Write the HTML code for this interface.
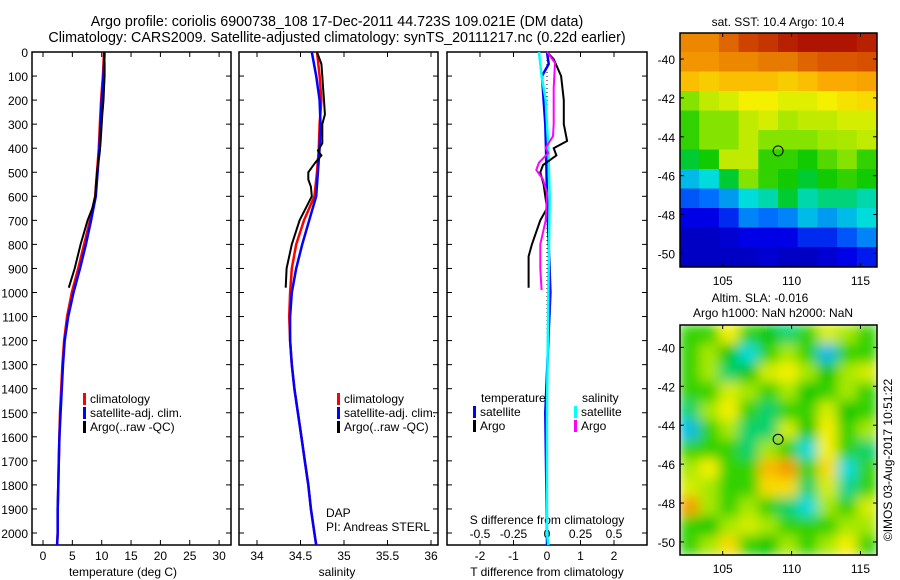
<!DOCTYPE html>
<html><head><meta charset="utf-8"><style>
body{margin:0;background:#fff}
svg{display:block;font-family:"Liberation Sans",sans-serif}
</style></head><body>
<svg id="c" width="900" height="580" viewBox="0 0 900 580" xmlns="http://www.w3.org/2000/svg">
<text x="337" y="26" font-size="14.3" text-anchor="middle">Argo profile: coriolis 6900738_108 17-Dec-2011 44.723S 109.021E (DM data)</text>
<text x="337" y="42" font-size="14.3" text-anchor="middle">Climatology: CARS2009. Satellite-adjusted climatology: synTS_20111217.nc (0.22d earlier)</text>
<g id="g"></g>
</svg>
<script>
// ---- data ----
const depthTicks=[0,100,200,300,400,500,600,700,800,900,1000,1100,1200,1300,1400,1500,1600,1700,1800,1900,2000];
const tTicks=[0,5,10,15,20,25,30];
const sTicks=[34,34.5,35,35.5,36];
const dTTicks=[-2,-1,0,1,2];
const dSTickLabels=["-0.5","-0.25","0","0.25","0.5"];
const climDepth=[0,100,200,300,400,500,600,700,800,900,1000,1100,1200,1300,1400,1500,1600,1700,1800,1900,2000,2050];
const climT=[10.4,10.2,9.9,9.7,9.5,9.2,8.9,8.0,7.0,6.0,4.9,4.1,3.6,3.3,3.1,2.9,2.8,2.7,2.6,2.5,2.5,2.4];
const satT=[10.5,10.3,10.0,9.8,9.6,9.3,9.0,8.2,7.3,6.3,5.2,4.3,3.7,3.4,3.2,3.0,2.8,2.7,2.6,2.5,2.5,2.4];
const climS=[34.69,34.72,34.74,34.72,34.71,34.69,34.66,34.54,34.45,34.40,34.38,34.37,34.38,34.40,34.43,34.47,34.51,34.55,34.59,34.62,34.66,34.68];
const satS=[34.63,34.68,34.72,34.73,34.72,34.70,34.68,34.60,34.52,34.45,34.40,34.38,34.38,34.40,34.43,34.47,34.51,34.55,34.59,34.62,34.66,34.68];
const argoDepth=[0,50,100,150,200,260,300,380,410,430,460,500,530,560,600,650,700,800,900,980];
const argoT=[10.4,10.5,10.5,10.4,10.3,10.1,10.0,9.8,9.7,9.6,9.4,9.2,9.1,9.0,8.9,8.4,7.6,6.4,5.4,4.4];
const argoS=[34.69,34.74,34.75,34.76,34.77,34.78,34.75,34.75,34.70,34.74,34.67,34.59,34.59,34.62,34.63,34.56,34.49,34.40,34.34,34.33];
const dTArgoDepth=[0,30,100,200,300,370,400,430,470,500,550,650,700,800,850,980];
const dTArgo=[0,0.2,0.42,0.5,0.5,0.6,0.2,0.28,-0.12,-0.2,-0.1,0,-0.2,-0.45,-0.55,-0.55];
const dSArgoDepth=[0,45,150,300,350,398,420,460,490,530,585,700,800,900,990];
const dSArgo=[0,0.06,0.05,0.05,0.045,-0.01,0.01,-0.06,-0.08,-0.03,0,-0.01,-0.05,-0.05,-0.04];
const dSatDepth=[0,50,100,200,300,400,600,800,1000,1500,2000,2050];
const dTSat=[0,0.05,-0.15,-0.1,-0.05,-0.03,0,0.05,0.1,-0.05,0,0];
const dSSat=[-0.06,-0.05,-0.04,-0.01,0.0,0.01,0.02,0.015,0.01,0,0,0.01];
const sstGrid=[
[0.8,0.8,0.85,0.9,0.92,0.95,0.97,0.97,0.97,0.95],
[0.78,0.78,0.8,0.8,0.82,0.82,0.85,0.87,0.87,0.88],
[0.72,0.7,0.72,0.72,0.72,0.7,0.72,0.75,0.75,0.76],
[0.55,0.6,0.62,0.65,0.65,0.63,0.63,0.65,0.67,0.68],
[0.5,0.55,0.55,0.6,0.62,0.58,0.6,0.6,0.62,0.62],
[0.5,0.55,0.55,0.6,0.55,0.55,0.55,0.57,0.58,0.6],
[0.45,0.48,0.6,0.6,0.5,0.5,0.48,0.52,0.55,0.5],
[0.35,0.38,0.45,0.55,0.5,0.48,0.45,0.48,0.5,0.48],
[0.25,0.28,0.32,0.38,0.4,0.45,0.4,0.42,0.42,0.4],
[0.15,0.15,0.2,0.3,0.28,0.3,0.35,0.32,0.35,0.38],
[0.1,0.1,0.12,0.15,0.15,0.15,0.2,0.2,0.25,0.3],
[0.1,0.1,0.1,0.1,0.12,0.1,0.1,0.12,0.15,0.18]];
const slaGrid=[
[0.5,0.5,0.6,0.5,0.48,0.45,0.5,0.58,0.55,0.5],
[0.5,0.55,0.48,0.42,0.5,0.55,0.5,0.4,0.5,0.5],
[0.5,0.55,0.45,0.48,0.58,0.6,0.55,0.48,0.55,0.58],
[0.5,0.5,0.58,0.55,0.5,0.55,0.48,0.5,0.55,0.5],
[0.45,0.55,0.6,0.5,0.45,0.5,0.5,0.58,0.48,0.5],
[0.4,0.5,0.55,0.45,0.45,0.58,0.48,0.6,0.5,0.55],
[0.5,0.5,0.5,0.45,0.55,0.5,0.42,0.6,0.5,0.45],
[0.55,0.6,0.5,0.5,0.65,0.68,0.5,0.62,0.42,0.5],
[0.58,0.55,0.5,0.5,0.62,0.62,0.45,0.58,0.44,0.5],
[0.68,0.55,0.5,0.55,0.5,0.45,0.42,0.55,0.5,0.58],
[0.5,0.48,0.55,0.58,0.55,0.5,0.5,0.5,0.55,0.55],
[0.5,0.55,0.62,0.5,0.48,0.55,0.5,0.55,0.6,0.5]];
const lonTicks=[105,110,115];
const latTicks=[-40,-42,-44,-46,-48,-50];
const argoLat=-44.723, argoLon=109.021;

// ---- helpers ----
const NS="http://www.w3.org/2000/svg";
const G=document.getElementById('g');
function el(tag,attrs,parent,txt){const e=document.createElementNS(NS,tag);for(const k in attrs)e.setAttribute(k,attrs[k]);if(txt!==undefined)e.textContent=txt;(parent||G).appendChild(e);return e;}
const yD=d=>52+d*0.2405;
const PT={x0:32,x1:231},PS={x0:239,x1:438},PD={x0:447,x1:647};
const xT=t=>43+t*5.87, xS=s=>257+(s-34)*87, xDT=v=>547+v*33.5, xDS=v=>547+v*134;
const Y0=52,Y1=545;

function frame(p,name){
  const r=el('rect',{x:p.x0,y:Y0,width:p.x1-p.x0,height:Y1-Y0,fill:'none',stroke:'#000','stroke-width':1.5});
  
  
}
function yTicks(p){
  depthTicks.forEach(d=>{const y=yD(d);
    el('line',{x1:p.x0,x2:p.x0+5,y1:y,y2:y,stroke:'#000'});
    el('line',{x1:p.x1,x2:p.x1-5,y1:y,y2:y,stroke:'#000'});});
}
function xTicksAt(xs){xs.forEach(x=>{el('line',{x1:x,x2:x,y1:Y0,y2:Y0+5,stroke:'#000'});el('line',{x1:x,x2:x,y1:Y1,y2:Y1-5,stroke:'#000'});});}
function line(xs,ds,fx,color,name,w){
  const pts=xs.map((v,i)=>fx(v).toFixed(1)+','+yD(ds[i]).toFixed(1)).join(' ');
  const l=el('polyline',{points:pts,fill:'none',stroke:color,'stroke-width':w||2.5});
  
  
}
function legend(x,y,items){items.forEach((it,i)=>{
  el('rect',{x:x,y:y+i*14-10,width:3,height:12,fill:it[1]});
  const t=el('text',{x:x+7,y:y+i*14,'font-size':12},null,it[0]);
  
  
});}

depthTicks.forEach(d=>{const t=el('text',{x:28,y:yD(d)+5,'font-size':12,'text-anchor':'end'},null,String(d));
  
  });

// Panel 1 temperature
frame(PT,'temperature-panel'); yTicks(PT); xTicksAt(tTicks.map(xT));
tTicks.forEach(v=>{const t=el('text',{x:xT(v),y:560,'font-size':12,'text-anchor':'middle'},null,String(v));
  
  });
el('text',{x:123,y:576,'font-size':12,'text-anchor':'middle',},null,'temperature (deg C)');
line(climT,climDepth,xT,'#f00','temp-climatology-line');
line(satT,climDepth,xT,'#00f','temp-satellite-line');
line(argoT,argoDepth,xT,'#000','temp-argo-line',2);
legend(83,403,[['climatology','#f00'],['satellite-adj. clim.','#00f'],['Argo(..raw -QC)','#000']]);

// Panel 2 salinity
frame(PS,'salinity-panel'); yTicks(PS); xTicksAt(sTicks.map(xS));
sTicks.forEach(v=>{const t=el('text',{x:xS(v),y:560,'font-size':12,'text-anchor':'middle'},null,String(v));
  
  });
el('text',{x:337,y:576,'font-size':12,'text-anchor':'middle',},null,'salinity');
line(climS,climDepth,xS,'#f00','sal-climatology-line');
line(satS,climDepth,xS,'#00f','sal-satellite-line');
line(argoS,argoDepth,xS,'#000','sal-argo-line',2);
legend(337,403,[['climatology','#f00'],['satellite-adj. clim.','#00f'],['Argo(..raw -QC)','#000']]);
el('text',{x:326,y:517,'font-size':12,},null,'DAP');
el('text',{x:326,y:531,'font-size':12,},null,'PI: Andreas STERL');

// Panel 3 differences
frame(PD,'difference-panel'); yTicks(PD); xTicksAt(dTTicks.map(xDT));
el('line',{x1:547,x2:547,y1:Y0,y2:Y1,stroke:'#000','stroke-dasharray':'1,3',});
dTTicks.forEach(v=>{const t=el('text',{x:xDT(v),y:560,'font-size':12,'text-anchor':'middle'},null,String(v));
  
  });
dSTickLabels.forEach(s=>{const t=el('text',{x:xDS(parseFloat(s)),y:538,'font-size':12,'text-anchor':'middle'},null,s);
  
  });
el('text',{x:547,y:524,'font-size':12,'text-anchor':'middle',},null,'S difference from climatology');
el('text',{x:547,y:576,'font-size':12,'text-anchor':'middle',},null,'T difference from climatology');
line(dTSat,dSatDepth,xDT,'#00f','t-diff-satellite-line');
line(dSSat,dSatDepth,xDS,'#0ff','s-diff-satellite-line');
line(dTArgo,dTArgoDepth,xDT,'#000','t-diff-argo-line',2);
line(dSArgo,dSArgoDepth,xDS,'#f0f','s-diff-argo-line',2);
el('text',{x:481,y:402,'font-size':12,},null,'temperature');
el('text',{x:582,y:402,'font-size':12,},null,'salinity');
legend(473,416,[['satellite','#00f'],['Argo','#000']]);
legend(574,416,[['satellite','#0ff'],['Argo','#f0f']]);

// colormap
const stops=[[0,[0,0,128]],[0.15,[0,0,230]],[0.28,[0,110,255]],[0.38,[0,220,220]],[0.47,[0,200,0]],[0.56,[150,230,0]],[0.65,[245,240,0]],[0.75,[250,170,0]],[0.88,[215,80,0]],[1,[160,0,0]]];
function cmap(v){v=Math.max(0,Math.min(1,v));for(let i=1;i<stops.length;i++){if(v<=stops[i][0]){const a=stops[i-1],b=stops[i],f=(v-a[0])/(b[0]-a[0]);return 'rgb('+a[1].map((c,k)=>Math.round(c+(b[1][k]-c)*f)).join(',')+')';}}return 'rgb(160,0,0)';}

function map(mx0,my0,mx1,my1,latTop,latBot,grid,name,blur,contrast){
  const lonL=101.9,lonR=116.2;
  const xL=l=>mx0+(l-lonL)/(lonR-lonL)*(mx1-mx0);
  const yL=l=>my0+(latTop-l)/(latTop-latBot)*(my1-my0);
  const g=el('g',{});
  
  
  const id='clip'+name;
  const cp=el('clipPath',{id:id},g);el('rect',{x:mx0,y:my0,width:mx1-mx0,height:my1-my0},cp);
  const inner=el('g',{'clip-path':'url(#'+id+')'},g);
  const ig=el('g',blur?{filter:'url(#bl)'}:{},inner);
  const rows=grid.length,cols=grid[0].length,cw=(mx1-mx0)/cols,rh=(my1-my0)/rows;
  grid.forEach((row,r)=>row.forEach((v,c)=>{
    const cell=el('rect',{x:mx0+c*cw-0.5,y:my0+r*rh-0.5,width:cw+1,height:rh+1,fill:cmap(0.5+(v-0.5)*contrast)},ig);
    
    
  }));
  el('rect',{x:mx0,y:my0,width:mx1-mx0,height:my1-my0,fill:'none',stroke:'#000','stroke-width':1.5},g);
  lonTicks.forEach(l=>{const x=xL(l);el('line',{x1:x,x2:x,y1:my0,y2:my0+4,stroke:'#000'},g);el('line',{x1:x,x2:x,y1:my1,y2:my1-4,stroke:'#000'},g);
    el('text',{x:x,y:my1+18,'font-size':12,'text-anchor':'middle'},g,String(l));});
  latTicks.forEach(l=>{const y=yL(l);el('line',{x1:mx0,x2:mx0+4,y1:y,y2:y,stroke:'#000'},g);el('line',{x1:mx1,x2:mx1-4,y1:y,y2:y,stroke:'#000'},g);
    el('text',{x:mx0-5,y:y+5,'font-size':12,'text-anchor':'end'},g,String(l));});
  el('circle',{cx:xL(argoLon),cy:yL(argoLat),r:5,fill:'none',stroke:'#000','stroke-width':1},g);
}
const defs=el('defs',{});const f=el('filter',{id:'bl',x:'-10%',y:'-10%',width:'120%',height:'120%'},defs);el('feGaussianBlur',{stdDeviation:6},f);
map(680,33,877,267,-38.66,-50.7,sstGrid,'sst-map',false,1);
map(680,325,877,555,-38.85,-50.67,slaGrid,'sla-map',true,1.5);
el('text',{x:778,y:26,'font-size':12,'text-anchor':'middle',},null,'sat. SST: 10.4 Argo: 10.4');
el('text',{x:760,y:302,'font-size':12,'text-anchor':'middle',},null,'Altim. SLA: -0.016');
el('text',{x:773,y:317,'font-size':12,'text-anchor':'middle',},null,'Argo h1000: NaN h2000: NaN');
el('text',{x:0,y:0,'font-size':12,'text-anchor':'middle',transform:'translate(892,460) rotate(-90)',},null,'©IMOS 03-Aug-2017 10:51:22');
</script>
</body></html>
